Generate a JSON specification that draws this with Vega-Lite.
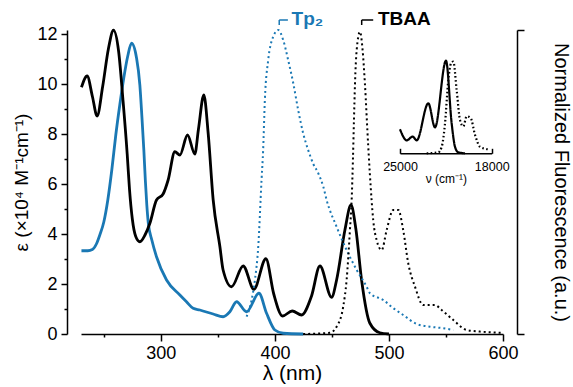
{
  "$schema": "https://vega.github.io/schema/vega-lite/v6.json",
  "width": 422,
  "height": 304,
  "autosize": {"type": "none"},
  "padding": {"left": 81, "top": 30, "right": 70, "bottom": 53},
  "background": "white",
  "config": {
    "font": "Liberation Sans",
    "view": {"stroke": null},
    "axis": {
      "grid": false,
      "domainColor": "black",
      "tickColor": "black",
      "labelColor": "black",
      "titleColor": "black",
      "labelFont": "Liberation Sans",
      "titleFont": "Liberation Sans",
      "labelFontSize": 18,
      "titleFontSize": 18,
      "titleFontWeight": "normal",
      "domainWidth": 1.5,
      "tickWidth": 1.5,
      "labelOverlap": false
    }
  },
  "datasets": {
    "abs": [
      {"s": "Tp2", "l": 230.4, "e": 3.33},
      {"s": "Tp2", "l": 236, "e": 3.33},
      {"s": "Tp2", "l": 240, "e": 3.38},
      {"s": "Tp2", "l": 243.5, "e": 3.6},
      {"s": "Tp2", "l": 246.5, "e": 3.96},
      {"s": "Tp2", "l": 250, "e": 4.48},
      {"s": "Tp2", "l": 253.5, "e": 5.36},
      {"s": "Tp2", "l": 257, "e": 6.56},
      {"s": "Tp2", "l": 260.5, "e": 7.96},
      {"s": "Tp2", "l": 264, "e": 9.16},
      {"s": "Tp2", "l": 267.5, "e": 10.24},
      {"s": "Tp2", "l": 271, "e": 11.12},
      {"s": "Tp2", "l": 274.3, "e": 11.63},
      {"s": "Tp2", "l": 278.7, "e": 11.04},
      {"s": "Tp2", "l": 281.6, "e": 9.96},
      {"s": "Tp2", "l": 283.3, "e": 8.76},
      {"s": "Tp2", "l": 285.1, "e": 7.36},
      {"s": "Tp2", "l": 286.4, "e": 6.16},
      {"s": "Tp2", "l": 287.7, "e": 5.16},
      {"s": "Tp2", "l": 289, "e": 4.44},
      {"s": "Tp2", "l": 292.1, "e": 3.76},
      {"s": "Tp2", "l": 296.2, "e": 3.09},
      {"s": "Tp2", "l": 305, "e": 2.16},
      {"s": "Tp2", "l": 316.7, "e": 1.56},
      {"s": "Tp2", "l": 322.5, "e": 1.29},
      {"s": "Tp2", "l": 328.3, "e": 1.03},
      {"s": "Tp2", "l": 334.2, "e": 0.96},
      {"s": "Tp2", "l": 345.9, "e": 0.8},
      {"s": "Tp2", "l": 354.6, "e": 0.69},
      {"s": "Tp2", "l": 360.5, "e": 0.89},
      {"s": "Tp2", "l": 366.4, "e": 1.29},
      {"s": "Tp2", "l": 375.2, "e": 0.89},
      {"s": "Tp2", "l": 386, "e": 1.63},
      {"s": "Tp2", "l": 392.7, "e": 0.83},
      {"s": "Tp2", "l": 400, "e": 0.16},
      {"s": "Tp2", "l": 407.3, "e": 0.03},
      {"s": "Tp2", "l": 424.8, "e": 0},
      {"s": "TBAA", "l": 230.4, "e": 9.87},
      {"s": "TBAA", "l": 235.4, "e": 10.32},
      {"s": "TBAA", "l": 240, "e": 9.5},
      {"s": "TBAA", "l": 244.1, "e": 8.72},
      {"s": "TBAA", "l": 249, "e": 9.9},
      {"s": "TBAA", "l": 254, "e": 11.4},
      {"s": "TBAA", "l": 258.5, "e": 12.15},
      {"s": "TBAA", "l": 263, "e": 11.3},
      {"s": "TBAA", "l": 266.8, "e": 9.36},
      {"s": "TBAA", "l": 270.5, "e": 7.2},
      {"s": "TBAA", "l": 272.5, "e": 5.8},
      {"s": "TBAA", "l": 275, "e": 4.6},
      {"s": "TBAA", "l": 278, "e": 3.9},
      {"s": "TBAA", "l": 281.6, "e": 3.69},
      {"s": "TBAA", "l": 286, "e": 3.95},
      {"s": "TBAA", "l": 290.4, "e": 4.43},
      {"s": "TBAA", "l": 296.2, "e": 5.36},
      {"s": "TBAA", "l": 302, "e": 5.6},
      {"s": "TBAA", "l": 306.4, "e": 6.16},
      {"s": "TBAA", "l": 312.3, "e": 7.29},
      {"s": "TBAA", "l": 316.7, "e": 7.16},
      {"s": "TBAA", "l": 323.4, "e": 7.96},
      {"s": "TBAA", "l": 329.8, "e": 7.2},
      {"s": "TBAA", "l": 333, "e": 8.2},
      {"s": "TBAA", "l": 337.7, "e": 9.56},
      {"s": "TBAA", "l": 341.5, "e": 8.03},
      {"s": "TBAA", "l": 345.9, "e": 5.36},
      {"s": "TBAA", "l": 351.8, "e": 3.49},
      {"s": "TBAA", "l": 354.6, "e": 2.56},
      {"s": "TBAA", "l": 362, "e": 1.89},
      {"s": "TBAA", "l": 372.2, "e": 2.72},
      {"s": "TBAA", "l": 381.6, "e": 1.79},
      {"s": "TBAA", "l": 392.1, "e": 3.01},
      {"s": "TBAA", "l": 399, "e": 1.6},
      {"s": "TBAA", "l": 406.7, "e": 0.72},
      {"s": "TBAA", "l": 415.2, "e": 0.92},
      {"s": "TBAA", "l": 423.4, "e": 0.76},
      {"s": "TBAA", "l": 432, "e": 1.5},
      {"s": "TBAA", "l": 439.5, "e": 2.72},
      {"s": "TBAA", "l": 449.7, "e": 1.47},
      {"s": "TBAA", "l": 454.1, "e": 2.16},
      {"s": "TBAA", "l": 461.4, "e": 4.16},
      {"s": "TBAA", "l": 466.7, "e": 5.16},
      {"s": "TBAA", "l": 471, "e": 4.2},
      {"s": "TBAA", "l": 476, "e": 2.16},
      {"s": "TBAA", "l": 483.3, "e": 0.43},
      {"s": "TBAA", "l": 492, "e": 0.05},
      {"s": "TBAA", "l": 500, "e": 0}
    ],
    "fl": [
      {"s": "Tp2", "l": 375.2, "f": 0.057},
      {"s": "Tp2", "l": 379.6, "f": 0.112},
      {"s": "Tp2", "l": 382.5, "f": 0.178},
      {"s": "Tp2", "l": 385.4, "f": 0.287},
      {"s": "Tp2", "l": 388.3, "f": 0.507},
      {"s": "Tp2", "l": 389.7, "f": 0.605},
      {"s": "Tp2", "l": 391.2, "f": 0.77},
      {"s": "Tp2", "l": 394.1, "f": 0.9},
      {"s": "Tp2", "l": 398.5, "f": 0.978},
      {"s": "Tp2", "l": 402.9, "f": 1.0},
      {"s": "Tp2", "l": 407.3, "f": 0.967},
      {"s": "Tp2", "l": 411.7, "f": 0.9},
      {"s": "Tp2", "l": 416.1, "f": 0.825},
      {"s": "Tp2", "l": 420.4, "f": 0.737},
      {"s": "Tp2", "l": 424.8, "f": 0.66},
      {"s": "Tp2", "l": 429.2, "f": 0.605},
      {"s": "Tp2", "l": 433.6, "f": 0.56},
      {"s": "Tp2", "l": 438, "f": 0.529},
      {"s": "Tp2", "l": 442.4, "f": 0.485},
      {"s": "Tp2", "l": 445.4, "f": 0.44},
      {"s": "Tp2", "l": 454.1, "f": 0.353},
      {"s": "Tp2", "l": 462.9, "f": 0.276},
      {"s": "Tp2", "l": 471.7, "f": 0.211},
      {"s": "Tp2", "l": 480.4, "f": 0.156},
      {"s": "Tp2", "l": 483.3, "f": 0.134},
      {"s": "Tp2", "l": 495, "f": 0.112},
      {"s": "Tp2", "l": 503.8, "f": 0.085},
      {"s": "Tp2", "l": 512.5, "f": 0.0625},
      {"s": "Tp2", "l": 524.3, "f": 0.033},
      {"s": "Tp2", "l": 536, "f": 0.024},
      {"s": "Tp2", "l": 547.6, "f": 0.019},
      {"s": "Tp2", "l": 556.4, "f": 0.013},
      {"s": "TBAA", "l": 424.8, "f": 0.0},
      {"s": "TBAA", "l": 448.2, "f": 0.004},
      {"s": "TBAA", "l": 454.1, "f": 0.024},
      {"s": "TBAA", "l": 459.9, "f": 0.09},
      {"s": "TBAA", "l": 462.9, "f": 0.178},
      {"s": "TBAA", "l": 465.8, "f": 0.342},
      {"s": "TBAA", "l": 467.3, "f": 0.44},
      {"s": "TBAA", "l": 468.4, "f": 0.57},
      {"s": "TBAA", "l": 469.3, "f": 0.7},
      {"s": "TBAA", "l": 470.2, "f": 0.82},
      {"s": "TBAA", "l": 471.7, "f": 0.934},
      {"s": "TBAA", "l": 474.6, "f": 0.994},
      {"s": "TBAA", "l": 476.9, "f": 0.934},
      {"s": "TBAA", "l": 478.9, "f": 0.825},
      {"s": "TBAA", "l": 481.8, "f": 0.62},
      {"s": "TBAA", "l": 484.8, "f": 0.44},
      {"s": "TBAA", "l": 486.2, "f": 0.375},
      {"s": "TBAA", "l": 489.2, "f": 0.309},
      {"s": "TBAA", "l": 493.6, "f": 0.276},
      {"s": "TBAA", "l": 498, "f": 0.342},
      {"s": "TBAA", "l": 503.8, "f": 0.408},
      {"s": "TBAA", "l": 508.2, "f": 0.408},
      {"s": "TBAA", "l": 512.5, "f": 0.342},
      {"s": "TBAA", "l": 516.9, "f": 0.233},
      {"s": "TBAA", "l": 522.8, "f": 0.156},
      {"s": "TBAA", "l": 530.1, "f": 0.095},
      {"s": "TBAA", "l": 540.4, "f": 0.095},
      {"s": "TBAA", "l": 546.2, "f": 0.079},
      {"s": "TBAA", "l": 556.4, "f": 0.046},
      {"s": "TBAA", "l": 568.2, "f": 0.013},
      {"s": "TBAA", "l": 579.8, "f": 0.008},
      {"s": "TBAA", "l": 598.9, "f": 0.004}
    ],
    "inset": [
      {"k": "abs", "n": 25000, "v": 0.26},
      {"k": "abs", "n": 24489, "v": 0.14},
      {"k": "abs", "n": 24031, "v": 0.18},
      {"k": "abs", "n": 23726, "v": 0.14},
      {"k": "abs", "n": 22840, "v": 0.54},
      {"k": "abs", "n": 22328, "v": 0.28},
      {"k": "abs", "n": 21489, "v": 1.0},
      {"k": "abs", "n": 21054, "v": 0.32},
      {"k": "abs", "n": 20802, "v": 0.07},
      {"k": "abs", "n": 20550, "v": 0.01},
      {"k": "abs", "n": 20038, "v": 0.0},
      {"k": "fl", "n": 22962, "v": 0.0},
      {"k": "fl", "n": 22077, "v": 0.01},
      {"k": "fl", "n": 21817, "v": 0.07},
      {"k": "fl", "n": 21565, "v": 0.32},
      {"k": "fl", "n": 21313, "v": 0.79},
      {"k": "fl", "n": 21107, "v": 0.97},
      {"k": "fl", "n": 20931, "v": 0.99},
      {"k": "fl", "n": 20672, "v": 0.68},
      {"k": "fl", "n": 20420, "v": 0.36},
      {"k": "fl", "n": 20168, "v": 0.29},
      {"k": "fl", "n": 19909, "v": 0.4},
      {"k": "fl", "n": 19603, "v": 0.38},
      {"k": "fl", "n": 19275, "v": 0.2},
      {"k": "fl", "n": 18893, "v": 0.07},
      {"k": "fl", "n": 18512, "v": 0.05},
      {"k": "fl", "n": 18130, "v": 0.04}
    ],
    "ann": [
      {"s": "Tp2", "label": "Tp₂", "l": 403.8, "l2": 411.4, "lt": 414.6, "ytop": 12.56, "ybot": 12.36},
      {"s": "TBAA", "label": "TBAA", "l": 476.1, "l2": 486.2, "lt": 490.4, "ytop": 12.56, "ybot": 12.36}
    ]
  },
  "layer": [
    {
      "data": {"name": "abs"},
      "mark": {"type": "line", "interpolate": "monotone", "strokeWidth": 2.8},
      "encoding": {
        "x": {
          "field": "l", "type": "quantitative",
          "scale": {"domain": [230, 600], "nice": false, "zero": false},
          "axis": {
            "orient": "bottom",
            "values": [250, 300, 350, 400, 450, 500, 550, 600],
            "labelExpr": "datum.value % 100 === 0 ? datum.label : ''",
            "tickSize": {"condition": {"test": "datum.value % 100 === 0", "value": 7}, "value": 3},
            "labelPadding": 3,
            "labelFlush": false,
            "title": "λ (nm)",
            "titleFontSize": 21,
            "titlePadding": 0
          }
        },
        "y": {
          "field": "e", "type": "quantitative",
          "scale": {"domain": [0, 12.16], "nice": false},
          "axis": {
            "orient": "left",
            "offset": 14,
            "values": [0, 1, 2, 3, 4, 5, 6, 7, 8, 9, 10, 11, 12],
            "labelExpr": "datum.value % 2 === 0 ? datum.label : ''",
            "tickSize": {"condition": {"test": "datum.value % 2 === 0", "value": 6}, "value": 3},
            "labelPadding": 4,
            "labelFlush": false,
            "title": "ε (×10⁴ M⁻¹cm⁻¹)",
            "titleFontSize": 19,
            "titlePadding": 5
          }
        },
        "color": {
          "field": "s", "type": "nominal",
          "scale": {"domain": ["Tp2", "TBAA"], "range": ["#1a78b4", "#000000"]},
          "legend": null
        }
      }
    },
    {
      "data": {"name": "fl"},
      "mark": {"type": "line", "interpolate": "monotone", "strokeWidth": 2, "strokeDash": [2, 3]},
      "encoding": {
        "x": {"field": "l", "type": "quantitative", "scale": {"domain": [230, 600], "nice": false, "zero": false}, "axis": null},
        "y": {
          "field": "f", "type": "quantitative",
          "scale": {"domain": [0, 1], "nice": false},
          "axis": {
            "orient": "right",
            "offset": 14,
            "values": [0, 1],
            "labels": false,
            "tickSize": 7,
            "title": "Normalized Fluorescence (a.u.)",
            "titleFontSize": 20,
            "titlePadding": 26
          }
        },
        "color": {"field": "s", "type": "nominal", "scale": {"domain": ["Tp2", "TBAA"], "range": ["#1a78b4", "#000000"]}, "legend": null}
      }
    },
    {
      "data": {"name": "inset"},
      "mark": {"type": "line", "interpolate": "monotone", "strokeWidth": 2.2, "color": "black"},
      "encoding": {
        "x": {
          "field": "n", "type": "quantitative",
          "scale": {"domain": [25000, 18000], "range": [319, 410.7], "nice": false, "zero": false},
          "axis": {
            "orient": "bottom",
            "offset": -180.7,
            "values": [25000, 18000],
            "format": "d",
            "tickSize": -5,
            "labelPadding": 12,
            "labelFlush": false,
            "labelFontSize": 12.5,
            "title": "ν (cm⁻¹)",
            "titleFontSize": 12,
            "titlePadding": 1
          }
        },
        "y": {
          "field": "v", "type": "quantitative",
          "scale": {"domain": [0, 1], "range": [123.3, 30.7], "nice": false},
          "axis": null
        },
        "strokeDash": {
          "field": "k", "type": "nominal",
          "scale": {"domain": ["abs", "fl"], "range": [[1, 0], [1.6, 2.4]]},
          "legend": null
        }
      }
    },
    {
      "data": {"name": "ann"},
      "mark": {"type": "rule", "strokeWidth": 1.5},
      "encoding": {
        "x": {"field": "l", "type": "quantitative", "scale": {"domain": [230, 600], "nice": false, "zero": false}, "axis": null},
        "y": {"field": "ytop", "type": "quantitative", "scale": {"domain": [0, 12.16], "nice": false}, "axis": null},
        "y2": {"field": "ybot"},
        "color": {"field": "s", "type": "nominal", "scale": {"domain": ["Tp2", "TBAA"], "range": ["#1a78b4", "#000000"]}, "legend": null}
      }
    },
    {
      "data": {"name": "ann"},
      "mark": {"type": "rule", "strokeWidth": 1.5},
      "encoding": {
        "x": {"field": "l", "type": "quantitative", "scale": {"domain": [230, 600], "nice": false, "zero": false}, "axis": null},
        "x2": {"field": "l2"},
        "y": {"field": "ytop", "type": "quantitative", "scale": {"domain": [0, 12.16], "nice": false}, "axis": null},
        "color": {"field": "s", "type": "nominal", "scale": {"domain": ["Tp2", "TBAA"], "range": ["#1a78b4", "#000000"]}, "legend": null}
      }
    },
    {
      "data": {"name": "ann"},
      "mark": {"type": "text", "align": "left", "baseline": "alphabetic", "fontSize": 19, "fontWeight": "bold", "font": "Liberation Sans"},
      "encoding": {
        "x": {"field": "lt", "type": "quantitative", "scale": {"domain": [230, 600], "nice": false, "zero": false}, "axis": null},
        "y": {"field": "ybot", "type": "quantitative", "scale": {"domain": [0, 12.16], "nice": false}, "axis": null},
        "text": {"field": "label"},
        "color": {"field": "s", "type": "nominal", "scale": {"domain": ["Tp2", "TBAA"], "range": ["#1a78b4", "#000000"]}, "legend": null}
      }
    }
  ],
  "resolve": {"scale": {"x": "independent", "y": "independent"}}
}
